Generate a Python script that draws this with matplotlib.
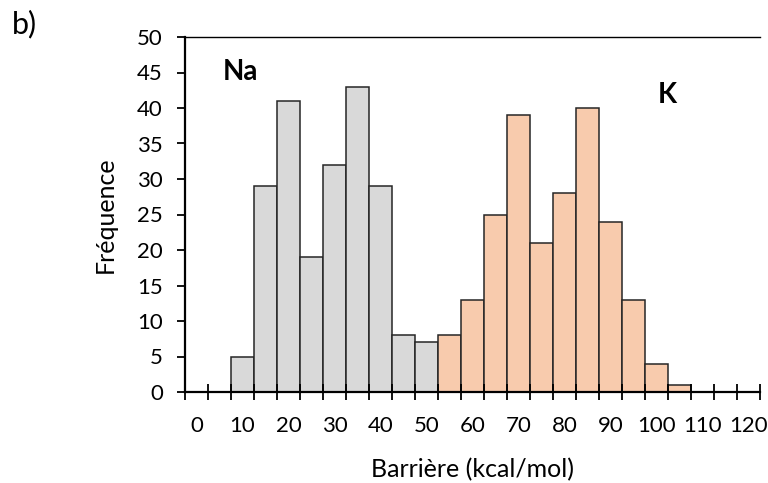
import numpy as np
import matplotlib
matplotlib.use("Agg")
import matplotlib.pyplot as plt

plt.rcParams["font.family"] = ["Lato", "DejaVu Sans"]

# categories of the histogram (bin labels, step 5)
bins = list(range(0, 125, 5))
na_counts = [0, 0, 5, 29, 41, 19, 32, 43, 29, 8, 7, 0, 0, 0, 0, 0, 0, 0, 0, 0, 0, 0, 0, 0, 0]
k_counts = [0, 0, 0, 0, 0, 0, 0, 0, 0, 0, 0, 8, 13, 25, 39, 21, 28, 40, 24, 13, 4, 1, 0, 0, 0]

fig = plt.figure(figsize=(7.68, 4.83), dpi=100)
ax = fig.add_axes([185 / 768, 1 - 392 / 483, (760 - 185) / 768, (392 - 37) / 483])

idx = np.arange(len(bins))
ax.bar(idx, na_counts, width=1, align="edge", color="#D9D9D9", edgecolor="#262626", linewidth=1.1)
ax.bar(idx, k_counts, width=1, align="edge", color="#F8CBAD", edgecolor="#262626", linewidth=1.1)

ax.set_xlim(0, len(bins))
ax.set_ylim(0, 50)
ax.set_yticks(range(0, 55, 5))

ax.set_xticks(idx.tolist() + [len(bins)])
ax.set_xticklabels([])
ax.tick_params(axis="x", which="major", direction="inout", length=11, width=1.3)
ax.set_xticks(idx[::2] + 0.5, minor=True)
ax.set_xticklabels([str(b) for b in bins[::2]], minor=True)
ax.tick_params(axis="x", which="minor", length=0, pad=17, labelsize=16)
ax.tick_params(axis="y", direction="out", length=6, width=1.3, labelsize=16, pad=10)

ax.spines["right"].set_visible(False)
ax.spines["top"].set_linewidth(1.0)
ax.spines["left"].set_linewidth(1.6)
ax.spines["bottom"].set_linewidth(1.6)

ax.set_ylabel("Fréquence", fontsize=18)
ax.yaxis.set_label_coords(-0.118, 0.5)
ax.set_xlabel("Barrière (kcal/mol)", fontsize=18)
ax.xaxis.set_label_coords(0.5, -0.185)

ax.text(2.39, 45.1, "Na", fontsize=20, fontweight="bold", ha="center", va="center")
ax.text(20.96, 41.8, "K", fontsize=20, fontweight="bold", ha="center", va="center")
fig.text(12 / 768, 1 - 24 / 483, "b)", fontsize=22, va="center")

fig.savefig("out.png", dpi=100)
